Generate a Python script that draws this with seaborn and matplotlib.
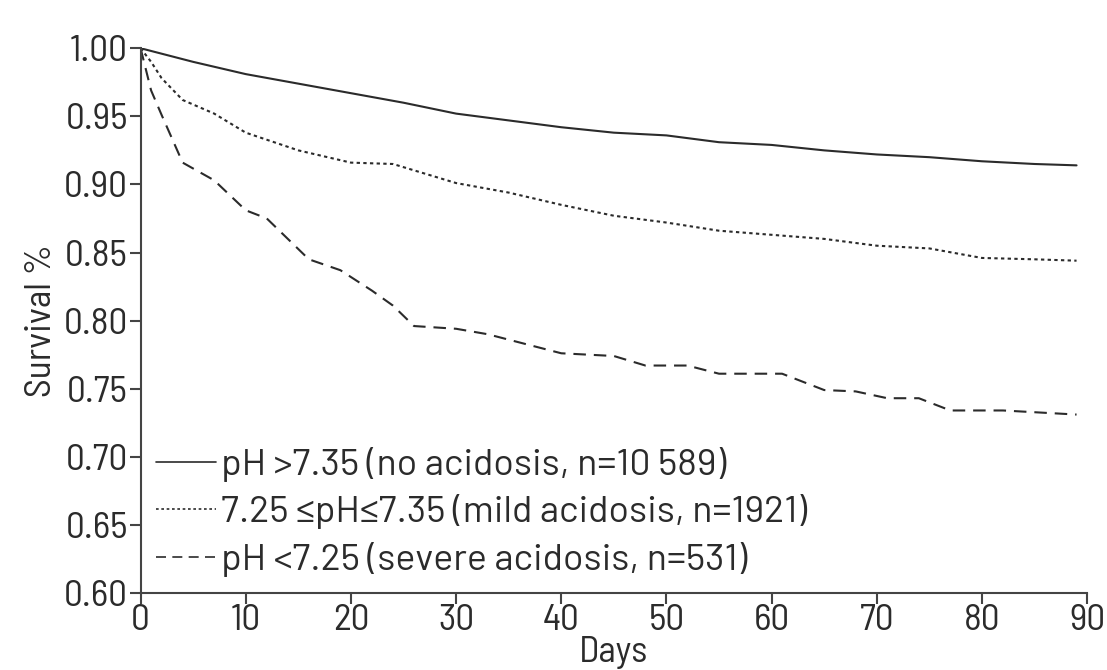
import matplotlib
matplotlib.use("Agg")
import matplotlib.pyplot as plt
import seaborn as sns
import pandas as pd

# Kaplan-Meier survival estimates by admission pH group
days_none = [0, 2, 5, 10, 15, 20, 25, 30, 35, 40, 45, 50, 55, 60, 65, 70, 75, 80, 85, 89]
surv_none = [1.000, 0.996, 0.990, 0.981, 0.974, 0.967, 0.960, 0.952, 0.947, 0.942,
             0.938, 0.936, 0.931, 0.929, 0.925, 0.922, 0.920, 0.917, 0.915, 0.914]

days_mild = [0, 1, 2, 4, 7, 10, 15, 20, 24, 30, 35, 40, 45, 50, 55, 60, 65, 70, 75, 80, 85, 89]
surv_mild = [1.000, 0.990, 0.978, 0.962, 0.952, 0.938, 0.925, 0.916, 0.915, 0.901,
             0.894, 0.885, 0.877, 0.872, 0.866, 0.863, 0.860, 0.855, 0.853, 0.846,
             0.845, 0.844]

days_severe = [0, 1, 2, 4, 7, 10, 12, 16, 19, 22, 24, 26, 30, 33, 36, 40, 45, 48, 52,
               55, 61, 65, 68, 71, 74, 77, 82, 89]
surv_severe = [1.000, 0.969, 0.951, 0.916, 0.903, 0.881, 0.875, 0.845, 0.837, 0.822,
               0.811, 0.796, 0.794, 0.790, 0.784, 0.776, 0.774, 0.767, 0.767, 0.761,
               0.761, 0.749, 0.748, 0.743, 0.743, 0.734, 0.734, 0.731]

labels = ["pH >7.35 (no acidosis, n=10 589)",
          "7.25 \u2264pH\u22647.35 (mild acidosis, n=1921)",
          "pH <7.25 (severe acidosis, n=531)"]

x_ticks = [0, 10, 20, 30, 40, 50, 60, 70, 80, 90]
y_ticks = [0.60, 0.65, 0.70, 0.75, 0.80, 0.85, 0.90, 0.95, 1.00]

frames = []
for d, s, lab in zip([days_none, days_mild, days_severe],
                     [surv_none, surv_mild, surv_severe], labels):
    frames.append(pd.DataFrame({"Days": d, "Survival": s, "Group": lab}))
df = pd.concat(frames, ignore_index=True)

sns.set_style("ticks")
plt.rcParams["font.family"] = ["Barlow Semi Condensed", "DejaVu Sans"]

ink = "#2b2b2b"
fs = 27
fig = plt.figure(figsize=(11.07, 6.70), dpi=100)
ax = fig.add_axes([0.127, 0.115, 0.855, 0.813])

dash_map = {labels[0]: "", labels[1]: (1.6, 1.6), labels[2]: (6.0, 3.8)}
sns.lineplot(data=df, x="Days", y="Survival", hue="Group", style="Group",
             palette=[ink, ink, ink], dashes=dash_map, linewidth=1.5,
             estimator=None, sort=False, ax=ax)

ax.set_xlim(0, 90)
ax.set_ylim(0.60, 1.00)
ax.set_xticks(x_ticks)
ax.set_yticks(y_ticks)
ax.set_xticklabels([str(t) for t in x_ticks])
ax.set_yticklabels([f"{t:.2f}" for t in y_ticks])
ax.tick_params(axis="both", labelsize=fs, colors="#444444", labelcolor=ink,
               length=8, width=1.5, direction="out")
ax.tick_params(axis="x", pad=0)
ax.tick_params(axis="y", pad=1)
for side in ["left", "bottom"]:
    ax.spines[side].set_color("#444444")
    ax.spines[side].set_linewidth(1.5)
sns.despine(ax=ax)

ax.set_xlabel("Days", fontsize=fs, color=ink, labelpad=-1)
ax.set_ylabel("Survival %", fontsize=fs, color=ink, labelpad=4)

leg = ax.legend(loc="lower left", frameon=False,
                prop={"family": ["Barlow", "DejaVu Sans"], "size": fs},
                handlelength=1.6, handletextpad=0.15, labelspacing=0.33,
                borderaxespad=0.0, bbox_to_anchor=(0.0, 0.002))
for t in leg.get_texts():
    t.set_color(ink)
for h in leg.get_lines():
    h.set_linewidth(1.2)

fig.savefig("out.png", dpi=100)
